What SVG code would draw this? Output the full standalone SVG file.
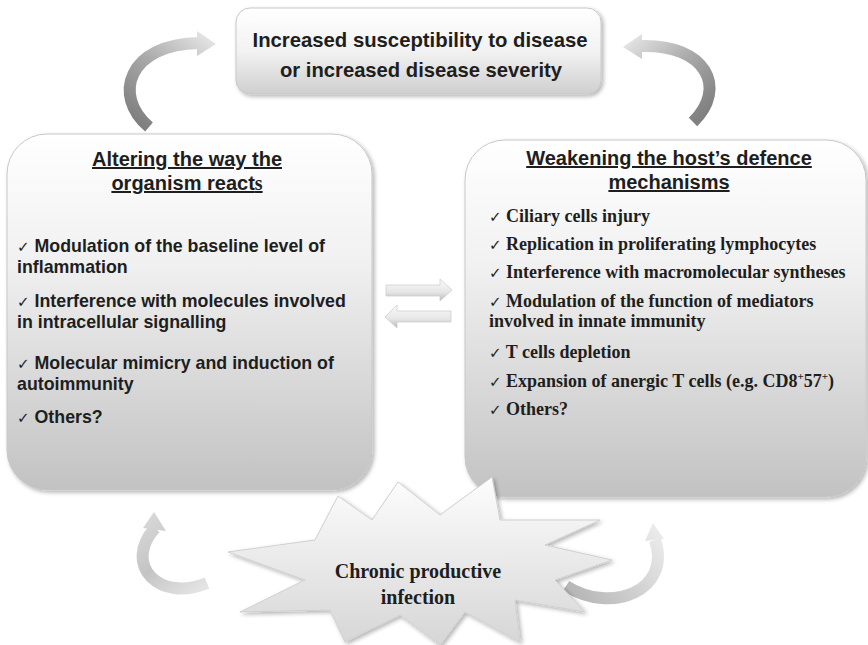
<svg xmlns="http://www.w3.org/2000/svg" width="868" height="645" viewBox="0 0 868 645">
<defs>
  <linearGradient id="gBox" x1="0" y1="0" x2="0" y2="1">
    <stop offset="0" stop-color="#ffffff"/>
    <stop offset="0.35" stop-color="#f1f1f1"/>
    <stop offset="1" stop-color="#c2c2c2"/>
  </linearGradient>
  <linearGradient id="gTop" x1="0" y1="0" x2="0" y2="1">
    <stop offset="0" stop-color="#ffffff"/>
    <stop offset="0.5" stop-color="#f2f2f2"/>
    <stop offset="1" stop-color="#cfcfcf"/>
  </linearGradient>
  <linearGradient id="gStar" x1="0" y1="0" x2="0" y2="1">
    <stop offset="0" stop-color="#fdfdfd"/>
    <stop offset="1" stop-color="#d6d6d6"/>
  </linearGradient>
  <linearGradient id="gStraight" x1="0" y1="0" x2="0" y2="1">
    <stop offset="0" stop-color="#fafafa"/>
    <stop offset="0.6" stop-color="#e6e6e6"/>
    <stop offset="1" stop-color="#b8b8b8"/>
  </linearGradient>
  <linearGradient id="gTL" gradientUnits="userSpaceOnUse" x1="150" y1="130" x2="215" y2="45">
    <stop offset="0" stop-color="#808080"/>
    <stop offset="0.5" stop-color="#a8a8a8"/>
    <stop offset="1" stop-color="#e2e2e2"/>
  </linearGradient>
  <linearGradient id="gTR" gradientUnits="userSpaceOnUse" x1="692" y1="125" x2="623" y2="48">
    <stop offset="0" stop-color="#808080"/>
    <stop offset="0.5" stop-color="#a8a8a8"/>
    <stop offset="1" stop-color="#e2e2e2"/>
  </linearGradient>
  <linearGradient id="gBL" gradientUnits="userSpaceOnUse" x1="207" y1="585" x2="152" y2="512">
    <stop offset="0" stop-color="#e4e4e4"/>
    <stop offset="0.5" stop-color="#c4c4c4"/>
    <stop offset="1" stop-color="#d8d8d8"/>
  </linearGradient>
  <linearGradient id="gBR" gradientUnits="userSpaceOnUse" x1="565" y1="590" x2="655" y2="522">
    <stop offset="0" stop-color="#b4b4b4"/>
    <stop offset="0.6" stop-color="#d6d6d6"/>
    <stop offset="1" stop-color="#ececec"/>
  </linearGradient>
  <filter id="sh" x="-10%" y="-10%" width="120%" height="120%">
    <feGaussianBlur in="SourceAlpha" stdDeviation="2"/>
    <feOffset dx="2" dy="2" result="b"/>
    <feComponentTransfer><feFuncA type="linear" slope="0.3"/></feComponentTransfer>
    <feMerge><feMergeNode/><feMergeNode in="SourceGraphic"/></feMerge>
  </filter>
</defs>
<style>
  .box { stroke:#c8c8c8; stroke-width:1; }
  .sans { font-family:"Liberation Sans", Arial, sans-serif; font-weight:bold; fill:#1e1e1e; }
  .serif { font-family:"Liberation Serif", "Times New Roman", serif; font-weight:bold; fill:#1e1e1e; }
  .title { font-size:20px; text-decoration:underline; }
  .item { font-size:17.8px; }
  .ritem { font-size:18px; }
  .ck { font-family:"DejaVu Sans", sans-serif; font-weight:normal; font-size:15px; }
  .arc { fill:none; stroke-width:12; }
</style>
<rect width="868" height="645" fill="#ffffff"/>

<g id="connectors">
  <g id="arrow-top-left">
    <path class="arc" stroke="url(#gTL)" d="M149,127 C112,96 128,44 199,43"/>
    <polygon points="197,31 216,44 197,56" fill="url(#gTL)"/>
  </g>
  <g id="arrow-top-right">
    <path class="arc" stroke="url(#gTR)" d="M693,122 C728,88 706,44 641,46"/>
    <polygon points="642,34 623,47 642,59" fill="url(#gTR)"/>
  </g>
  <g id="arrow-bottom-left">
    <path class="arc" stroke="url(#gBL)" stroke-width="11" d="M207,583 C160,603 122,565 155,528"/>
    <polygon points="143,528 154,512 166,531" fill="url(#gBL)"/>
  </g>
  <g id="arrow-bottom-right">
    <path class="arc" stroke="url(#gBR)" stroke-width="11" d="M566,586 C612,615 672,590 655,540"/>
    <polygon points="645,541 653,523 664,539" fill="url(#gBR)"/>
  </g>
  <g id="arrow-middle-right">
    <polygon points="386,285 440,285 440,279 452,290 440,301 440,296 386,296" fill="url(#gStraight)" stroke="#cfcfcf" stroke-width="0.8"/>
  </g>
  <g id="arrow-middle-left">
    <polygon points="451,311 397,311 397,305 385,317 397,328 397,322 451,322" fill="url(#gStraight)" stroke="#cfcfcf" stroke-width="0.8"/>
  </g>
</g>

<g id="node-top">
  <rect class="box" x="236" y="8" width="365" height="86" rx="14" fill="url(#gTop)" filter="url(#sh)"/>
  <text class="sans" x="420" y="47" font-size="21" text-anchor="middle" textLength="335" lengthAdjust="spacingAndGlyphs">Increased susceptibility to disease</text>
  <text class="sans" x="421" y="77" font-size="21" text-anchor="middle" textLength="282" lengthAdjust="spacingAndGlyphs">or increased disease severity</text>
</g>

<g id="node-left">
  <rect class="box" x="7" y="134" width="365" height="356" rx="40" fill="url(#gBox)" filter="url(#sh)"/>
  <text class="sans title" x="187" y="166" text-anchor="middle">Altering the way the</text>
  <text class="sans title" x="187" y="190" text-anchor="middle">organism react<tspan font-family="Liberation Serif, serif">s</tspan></text>
  <text class="sans item" x="17" y="252"><tspan class="ck">✓</tspan> Modulation of the baseline level of</text>
  <text class="sans item" x="17" y="273">inflammation</text>
  <text class="sans item" x="17" y="307"><tspan class="ck">✓</tspan> Interference with molecules involved</text>
  <text class="sans item" x="17" y="328">in intracellular signalling</text>
  <text class="sans item" x="17" y="369"><tspan class="ck">✓</tspan> Molecular mimicry and induction of</text>
  <text class="sans item" x="17" y="390">autoimmunity</text>
  <text class="sans item" x="17" y="423"><tspan class="ck">✓</tspan> Others?</text>
</g>

<g id="node-right">
  <rect class="box" x="465" y="140" width="401" height="357" rx="40" fill="url(#gBox)" filter="url(#sh)"/>
  <text class="sans title" x="669" y="165" text-anchor="middle">Weakening the host’s defence</text>
  <text class="sans title" x="669" y="189" text-anchor="middle">mechanisms</text>
  <text class="serif ritem" x="489" y="222"><tspan class="ck">✓</tspan> Ciliary cells injury</text>
  <text class="serif ritem" x="489" y="250"><tspan class="ck">✓</tspan> Replication in proliferating lymphocytes</text>
  <text class="serif ritem" x="489" y="278"><tspan class="ck">✓</tspan> Interference with macromolecular syntheses</text>
  <text class="serif ritem" x="489" y="307"><tspan class="ck">✓</tspan> Modulation of the function of mediators</text>
  <text class="serif ritem" x="489" y="327">involved in innate immunity</text>
  <text class="serif ritem" x="489" y="358"><tspan class="ck">✓</tspan> T cells depletion</text>
  <text class="serif ritem" x="489" y="387"><tspan class="ck">✓</tspan> Expansion of anergic T cells (e.g. CD8<tspan font-size="11" dy="-7">+</tspan><tspan dy="7">57</tspan><tspan font-size="11" dy="-7">+</tspan><tspan dy="7">)</tspan></text>
  <text class="serif ritem" x="489" y="415"><tspan class="ck">✓</tspan> Others?</text>
</g>

<g id="node-infection">
  <polygon points="228,552 315,540 338,496 372,520 398,482 440,515 492,477 500,520 600,520 545,545 612,560 555,580 585,612 515,600 520,642 465,612 440,645 400,615 345,642 330,610 240,612 305,580" fill="url(#gStar)" stroke="#d0d0d0" stroke-width="1" filter="url(#sh)"/>
  <text class="serif" x="418" y="578" font-size="20" text-anchor="middle">Chronic productive</text>
  <text class="serif" x="418" y="604" font-size="20" text-anchor="middle">infection</text>
</g>
</svg>
